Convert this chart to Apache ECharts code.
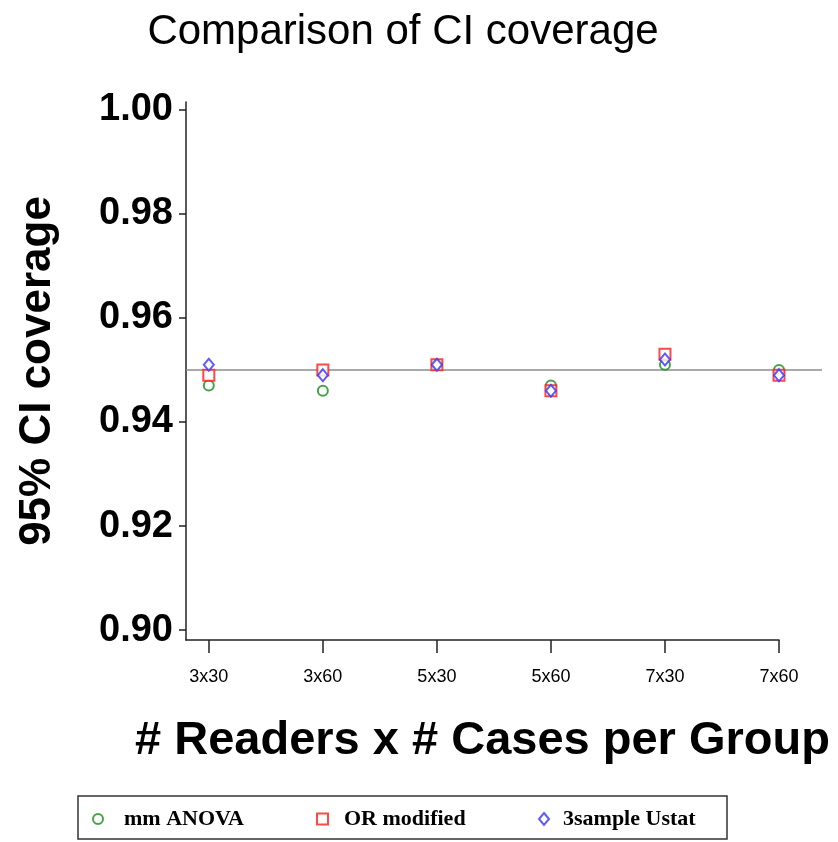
<!DOCTYPE html>
<html>
<head>
<meta charset="utf-8">
<script src="https://cdn.jsdelivr.net/npm/echarts@6/dist/echarts.min.js"></script>
<style>
  html, body { margin: 0; padding: 0; background: #fff; }
  #chart { width: 838px; height: 842px; }
</style>
</head>
<body>
<div id="chart"></div>
<script>
// data
var categories = ["3x30", "3x60", "5x30", "5x60", "7x30", "7x60"];
var mmAnova = [0.947, 0.946, 0.951, 0.947, 0.951, 0.950];
var orModified = [0.949, 0.950, 0.951, 0.946, 0.953, 0.949];
var ustat3 = [0.951, 0.949, 0.951, 0.946, 0.952, 0.949];
var yTicks = [0.90, 0.92, 0.94, 0.96, 0.98, 1.00];
var refLevel = 0.95;

function pts(arr) {
  return arr.map(function (v, i) { return [i, v]; });
}

var chart = echarts.init(document.getElementById("chart"));

var yMin = 0.8981, yMax = 1.0015;
var legendText = { fontFamily: "Liberation Serif", fontWeight: "bold", fontSize: 22, color: "#000" };

chart.setOption({
  animation: false,
  backgroundColor: "#fff",
  title: {
    text: "Comparison of CI coverage",
    left: 398,
    textAlign: "center",
    top: 6,
    textStyle: { fontFamily: "Liberation Sans", fontWeight: "normal", fontSize: 42, color: "#000" }
  },
  grid: [
    { left: 186, top: 102, width: 593, height: 538 },
    { left: 186, top: 102, width: 636, height: 538 }
  ],
  xAxis: [
    {
      type: "value",
      gridIndex: 0,
      min: -0.2,
      max: 5,
      splitLine: { show: false },
      axisLine: { onZero: false, lineStyle: { color: "#222", width: 1.5 } },
      axisTick: { show: true, length: 13, customValues: [0, 1, 2, 3, 4, 5], lineStyle: { color: "#222", width: 1.5 } },
      axisLabel: {
        customValues: [0, 1, 2, 3, 4, 5],
        margin: 28,
        fontFamily: "Liberation Sans",
        fontSize: 18,
        color: "#000",
        formatter: function (v) { return categories[Math.round(v)]; }
      },
      name: "# Readers x # Cases per Group",
      nameLocation: "middle",
      nameGap: 78,
      nameTextStyle: { fontFamily: "Liberation Sans", fontWeight: "bold", fontSize: 47, color: "#000" }
    },
    {
      type: "value",
      gridIndex: 1,
      min: 0,
      max: 1,
      show: false
    }
  ],
  yAxis: [
    {
      type: "value",
      gridIndex: 0,
      min: yMin,
      max: yMax,
      splitLine: { show: false },
      axisLine: { show: true, onZero: false, lineStyle: { color: "#222", width: 1.5 } },
      axisTick: { show: true, length: 7, customValues: yTicks, lineStyle: { color: "#222", width: 1.5 } },
      axisLabel: {
        customValues: yTicks,
        margin: 13,
        padding: [8, 0, 0, 0],
        fontFamily: "Liberation Sans",
        fontWeight: "bold",
        fontSize: 38,
        color: "#000",
        formatter: function (v) { return v.toFixed(2); }
      },
      name: "95% CI coverage",
      nameLocation: "middle",
      nameGap: 126,
      nameTextStyle: { fontFamily: "Liberation Sans", fontWeight: "bold", fontSize: 44, color: "#000" }
    },
    {
      type: "value",
      gridIndex: 1,
      min: yMin,
      max: yMax,
      show: false
    }
  ],
  legend: [
    {
      data: ["mm ANOVA"], left: 92, top: 808, padding: 0, itemWidth: 10, itemHeight: 11,
      textStyle: Object.assign({ padding: [0, 0, 0, 16] }, legendText)
    },
    {
      data: ["OR modified"], left: 316, top: 808, padding: 0, itemWidth: 11, itemHeight: 11,
      textStyle: Object.assign({ padding: [0, 0, 0, 11] }, legendText)
    },
    {
      data: ["3sample Ustat"], left: 538, top: 808, padding: 0, itemWidth: 10, itemHeight: 12,
      textStyle: Object.assign({ padding: [0, 0, 0, 9] }, legendText)
    }
  ],
  graphic: [
    {
      type: "rect",
      shape: { x: 78, y: 796, width: 649, height: 43 },
      style: { fill: "none", stroke: "#333", lineWidth: 1.5 }
    }
  ],
  series: [
    {
      name: "reference",
      type: "line",
      xAxisIndex: 1,
      yAxisIndex: 1,
      data: [[0, refLevel], [1, refLevel]],
      symbol: "none",
      lineStyle: { color: "#8c8c8c", width: 1.5 },
      silent: true,
      z: 1
    },
    {
      name: "mm ANOVA",
      type: "scatter",
      data: pts(mmAnova),
      symbol: "emptyCircle",
      symbolSize: 10,
      itemStyle: { color: "#1a8a1a", borderWidth: 1.5 },
      z: 3
    },
    {
      name: "OR modified",
      type: "scatter",
      data: pts(orModified),
      symbol: "emptyRect",
      symbolSize: 11,
      itemStyle: { color: "#ff1a1a", borderWidth: 1.5 },
      z: 4
    },
    {
      name: "3sample Ustat",
      type: "scatter",
      data: pts(ustat3),
      symbol: "emptyDiamond",
      symbolSize: [10, 12],
      itemStyle: { color: "#3333ff", borderWidth: 1.2 },
      z: 5
    }
  ]
});
</script>
</body>
</html>
